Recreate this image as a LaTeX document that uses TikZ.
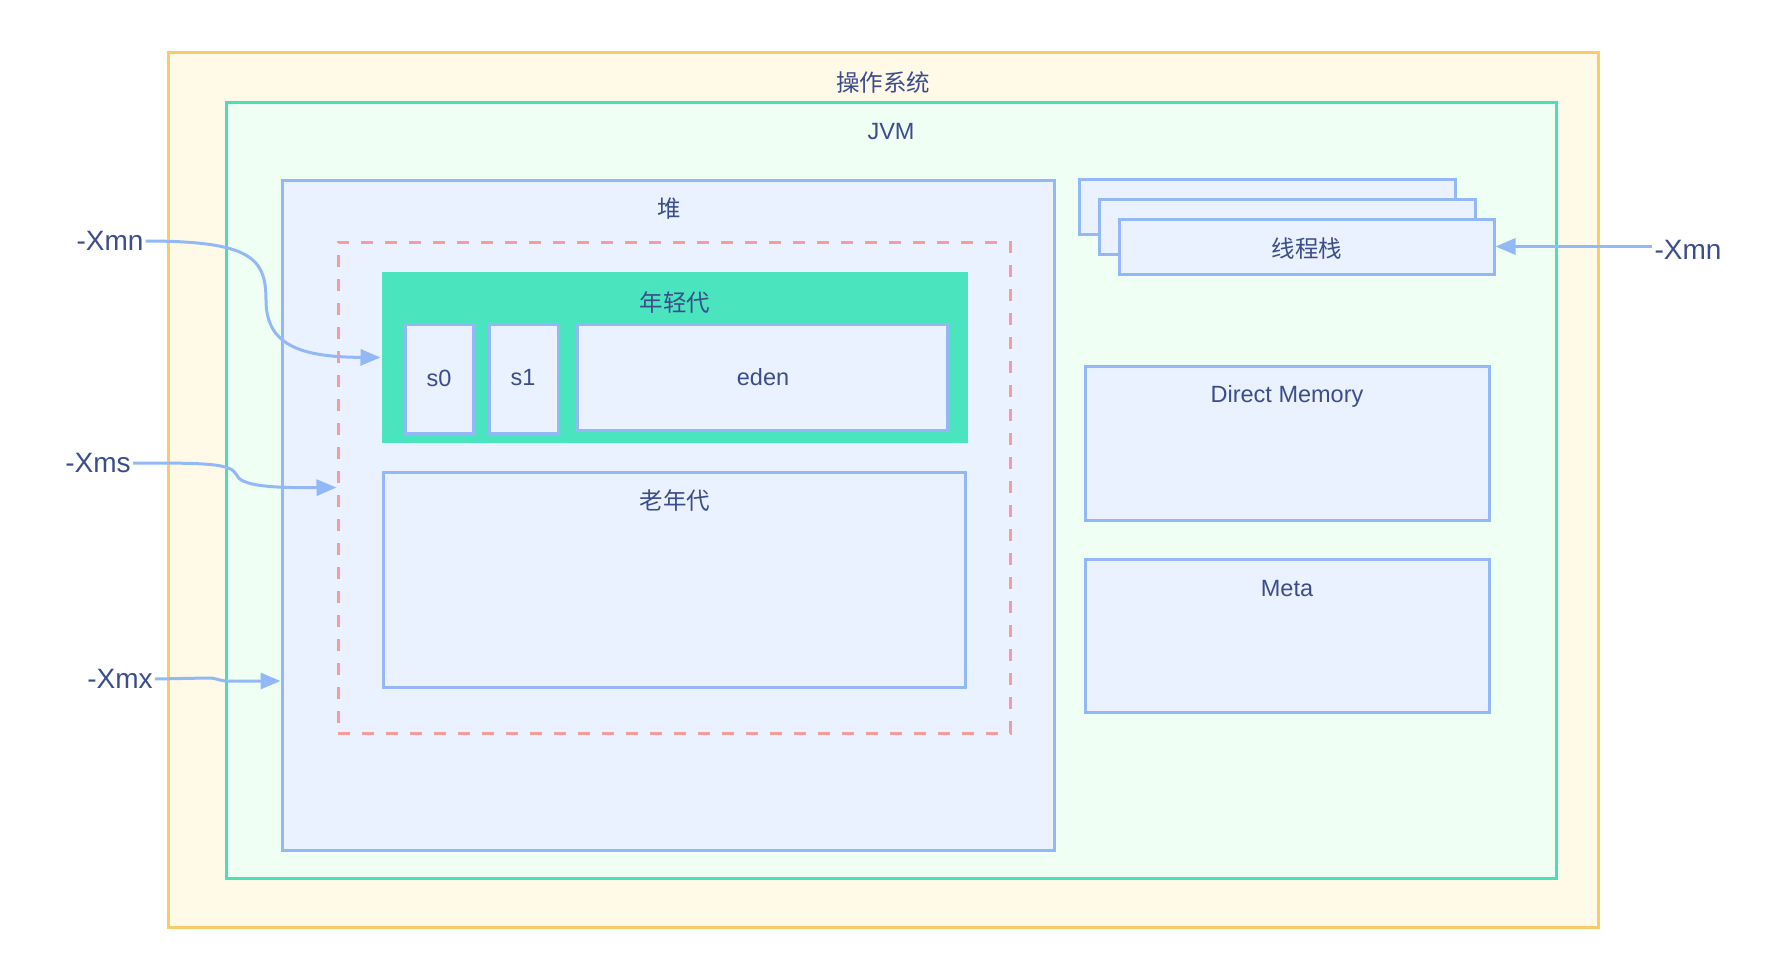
\documentclass[tikz,border=0pt]{standalone}
\usepackage{fontspec}
\setmainfont{Liberation Sans}
\newfontfamily\cjk{Noto Sans CJK SC}
\usetikzlibrary{arrows.meta}
\definecolor{osline}{HTML}{F8CC6D}
\definecolor{osfill}{HTML}{FFF9E8}
\definecolor{jvmline}{HTML}{4ADFBA}
\definecolor{jvmfill}{HTML}{F0FFF4}
\definecolor{bline}{HTML}{92B9F5}
\definecolor{bfill}{HTML}{EAF2FF}
\definecolor{dline}{HTML}{F59C9C}
\definecolor{yfill}{HTML}{4AE4BE}
\definecolor{txt}{HTML}{3C4D8C}
\tikzset{
  region/.style={rectangle, inner sep=0pt, line width=3pt},
  osbox/.style={region, draw=osline, fill=osfill},
  jvmbox/.style={region, draw=jvmline, fill=jvmfill},
  bluebox/.style={region, draw=bline, fill=bfill},
  dashbox/.style={region, draw=dline, dash pattern=on 12pt off 12pt},
  youngbox/.style={region, fill=yfill},
  lbl/.style={inner sep=1pt, text=txt, font=\fontsize{23.5}{28}\selectfont},
  cjklbl/.style={inner sep=1pt, text=txt, font=\fontsize{23.5}{28}\selectfont\cjk},
  xlbl/.style={inner sep=2pt, text=txt, font=\fontsize{28}{32}\selectfont},
  conn/.style={draw=bline, line width=3pt, -{Triangle[length=20pt,width=16pt]}}
}
\begin{document}
\begin{tikzpicture}[x=1pt,y=-1pt]
\useasboundingbox (0,0) rectangle (1790,974);
% containers
\node[osbox, minimum width=1430pt, minimum height=874pt] (os) at (883,490) {};
\node[jvmbox, minimum width=1330pt, minimum height=776pt] (jvm) at (891,490) {};
\node[bluebox, minimum width=772pt, minimum height=670pt] (heap) at (668,515) {};
\node[dashbox, minimum width=672pt, minimum height=491pt] (dash) at (674,487.5) {};
\node[youngbox, minimum width=586pt, minimum height=171pt] (young) at (675,357.5) {};
\node[bluebox, minimum width=68pt, minimum height=109pt] (s0) at (439,378.5) {};
\node[bluebox, minimum width=69pt, minimum height=109pt] (s1) at (523.5,378.5) {};
\node[bluebox, minimum width=370pt, minimum height=106pt] (eden) at (762,377) {};
\node[bluebox, minimum width=582pt, minimum height=215pt] (old) at (674,579.5) {};
\node[bluebox, minimum width=376pt, minimum height=55pt] (ts1) at (1267,206.5) {};
\node[bluebox, minimum width=376pt, minimum height=55pt] (ts2) at (1287,226.5) {};
\node[bluebox, minimum width=375pt, minimum height=55pt] (ts3) at (1306.5,246.5) {};
\node[bluebox, minimum width=404pt, minimum height=154pt] (dm) at (1287,443) {};
\node[bluebox, minimum width=404pt, minimum height=153pt] (meta) at (1287,635.5) {};
% texts
\node[cjklbl] (tos) at (883,83) {操作系统};
\node[lbl] (tjvm) at (891,132) {JVM};
\node[cjklbl] (theap) at (669,209) {堆};
\node[cjklbl] (tyoung) at (675,303) {年轻代};
\node[lbl] (ts0) at (439,378) {s0};
\node[lbl] (ts1t) at (523,378) {s1};
\node[lbl] (teden) at (763,377) {eden};
\node[cjklbl] (told) at (675,501) {老年代};
\node[cjklbl] (tts) at (1307,249) {线程栈};
\node[lbl] (tdm) at (1287,396) {Direct Memory};
\node[lbl] (tmeta) at (1287,589) {Meta};
\node[xlbl] (xmnL) at (110,241) {-Xmn};
\node[xlbl] (xms) at (98,463) {-Xms};
\node[xlbl] (xmx) at (120,679) {-Xmx};
\node[xlbl] (xmnR) at (1688,250) {-Xmn};
% waypoints
\coordinate (w1) at (266,300);
\coordinate (w2) at (236,474);
\coordinate (w3) at (208,678);
\coordinate (w4) at (228,681);
% connectors
\draw[conn] (xmnL.east) .. controls +(105,0) and (266,258) .. (w1)
  .. controls (266,345) and (300,357) .. (young.west);
\draw[conn] (xms.east) .. controls +(70,0) and (230,463) .. (w2)
  .. controls (240,486) and (270,488) .. (dash.west);
\draw[conn] (xmx.east) -- (w3) .. controls +(10,0) and +(-10,0) .. (w4) -- (heap.west |- w4);
\draw[conn] (xmnR.west |- ts3.east) -- (ts3.east);
\end{tikzpicture}
\end{document}
